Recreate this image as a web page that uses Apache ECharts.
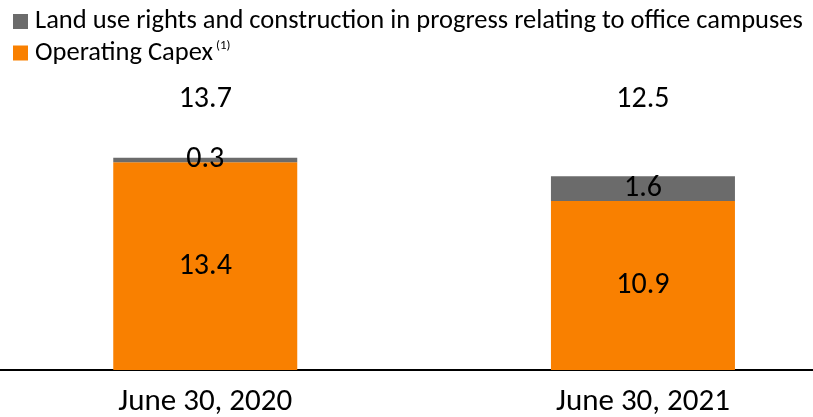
<!DOCTYPE html>
<html><head><meta charset="utf-8">
<script src="https://cdn.jsdelivr.net/npm/echarts@6/dist/echarts.min.js"></script>
<style>html,body{margin:0;padding:0;background:#fff}#c{width:813px;height:417px}</style>
</head><body><div id="c"></div>
<script>
const categories = ['June 30, 2020', 'June 30, 2021'];
const operatingCapex = [13.4, 10.9];
const landUse = [0.3, 1.6];
const totals = [13.7, 12.5];
const seriesNames = ['Land use rights and construction in progress relating to office campuses', 'Operating Capex'];

const FONT = "Carlito, 'Liberation Sans', sans-serif";
const chart = echarts.init(document.getElementById('c'), null, {renderer: 'canvas'});
chart.setOption({
  animation: false,
  textStyle: {fontFamily: FONT},
  legend: {
    orient: 'vertical', left: 8, top: 3, itemWidth: 15, itemHeight: 15, itemGap: 4.5,
    icon: 'rect',
    data: seriesNames,
    textStyle: {fontFamily: FONT, fontSize: 26.5, color: '#000', padding: [0, 0, 0, 2],
      rich: {sup: {fontSize: 13, verticalAlign: 'top', padding: [0,0,12,3], fontFamily: FONT, color:'#000'}}},
    formatter: function (n) { return n === 'Operating Capex' ? 'Operating Capex{sup|(1)}' : n; }
  },
  grid: {left: -13.6, width: 875.4, top: 122, bottom: 47, containLabel: false, outerBoundsMode: 'none'},
  xAxis: [{
    type: 'category', data: categories,
    axisLine: {lineStyle: {color: '#000', width: 2}},
    axisTick: {show: false},
    axisLabel: {fontSize: 31, color: '#000', margin: 17, fontFamily: FONT}
  }, {
    type: 'category', data: totals.map(v => v.toFixed(1)), position: 'top',
    axisLine: {show: false}, axisTick: {show: false},
    axisLabel: {fontSize: 30, color: '#000', margin: 8, fontFamily: FONT}
  }],
  yAxis: {type: 'value', min: 0, max: 16, show: false, splitLine: {show: false}},
  series: [{
    name: seriesNames[1], type: 'bar', stack: 't', data: operatingCapex, barWidth: 184,
    itemStyle: {color: '#F98000'},
    label: {show: true, position: 'inside', fontSize: 30, color: '#000', fontFamily: FONT, formatter: p => p.value.toFixed(1)}
  }, {
    name: seriesNames[0], type: 'bar', stack: 't', data: landUse, barWidth: 184,
    itemStyle: {color: '#6B6B6B'},
    label: {show: true, position: 'inside', fontSize: 30, color: '#000', fontFamily: FONT, formatter: p => p.value.toFixed(1)}
  }]
});
</script></body></html>
